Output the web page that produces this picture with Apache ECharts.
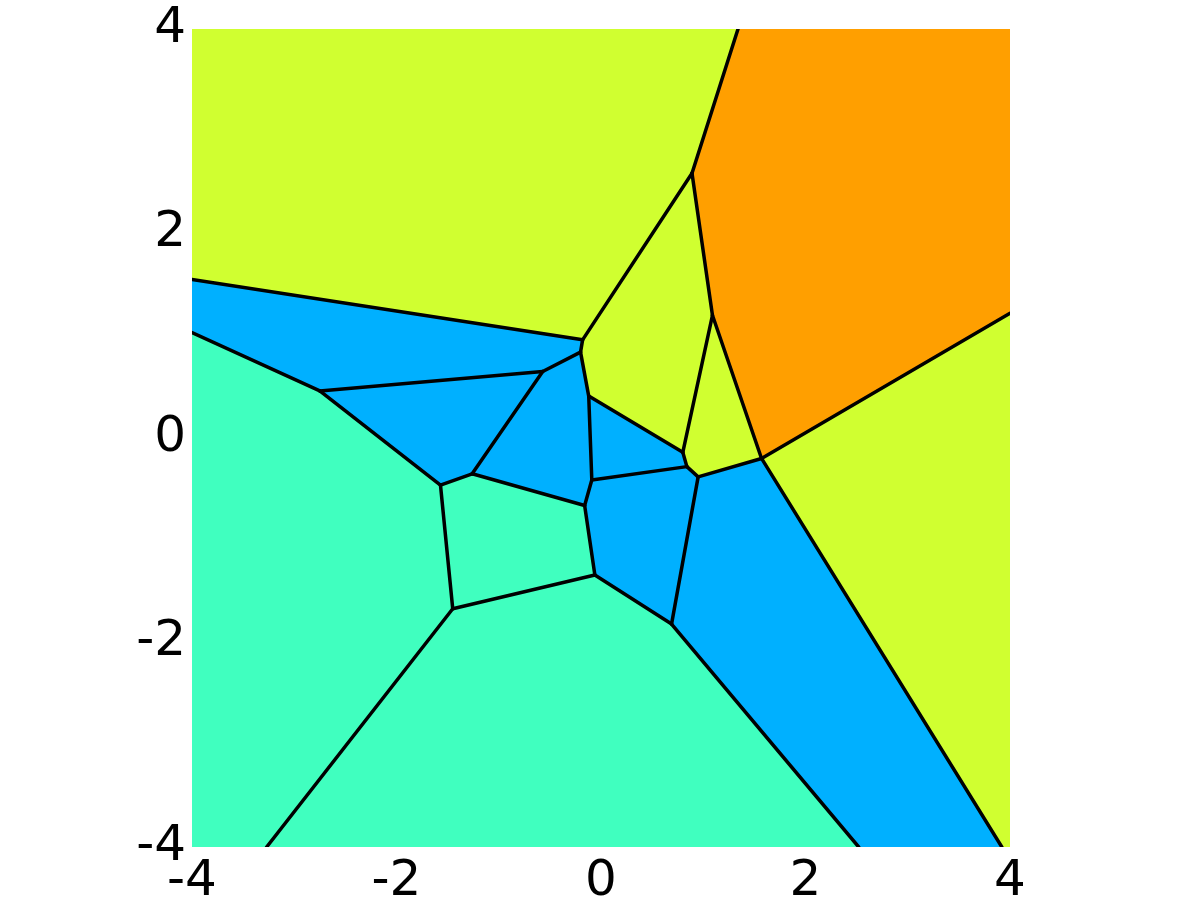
<!DOCTYPE html>
<html>
<head>
<meta charset="utf-8">
<title>Voronoi cells</title>
<script src="https://cdn.jsdelivr.net/npm/echarts@6/dist/echarts.min.js"></script>
<style>
  html, body { margin: 0; padding: 0; background: #fff; }
  #main { width: 1201px; height: 901px; }
</style>
</head>
<body>
<div id="main"></div>
<script>
// vertex coordinates (data units)
const vertexX = [-4, -0.18, -0.2, -0.57, -2.75, -4, -1.57, -1.26, -0.16, -0.09,
  -0.12, 0.8, 0.84, 0.95, 1.57, 1.09, 0.89, 1.34, 4, 3.92,
  2.52, 0.69, -0.06, -1.45, -3.27, -4, 4, 4, -4]
const vertexY = [1.55, 0.96, 0.84, 0.65, 0.46, 1.03, -0.46, -0.35, -0.66, -0.41,
  0.41, -0.14, -0.28, -0.38, -0.2, 1.2, 2.59, 4, 1.22, -4,
  -4, -1.82, -1.34, -1.67, -4, 4, 4, -4, -4]

// cells as lists of vertex indices
const cells = [
  [25, 17, 16, 1, 0],
  [17, 26, 18, 14, 15, 16],
  [18, 27, 19, 14],
  [14, 19, 20, 21, 13],
  [20, 24, 23, 22, 21],
  [5, 4, 6, 23, 24, 28],
  [0, 1, 2, 3, 4, 5],
  [4, 3, 7, 6],
  [2, 10, 9, 8, 7, 3],
  [6, 7, 8, 22, 23],
  [10, 11, 12, 9],
  [9, 12, 13, 21, 22, 8],
  [1, 16, 15, 11, 10, 2],
  [15, 14, 13, 12, 11]
]
const cellColor = ['#D0FF30', '#FF9F00', '#D0FF30', '#00B0FF', '#40FFBF', '#40FFBF', '#00B0FF',
  '#00B0FF', '#00B0FF', '#40FFBF', '#00B0FF', '#00B0FF', '#D0FF30', '#D0FF30']

const xTicks = [-4, -2, 0, 2, 4]
const yTicks = [-4, -2, 0, 2, 4]

// interior edges: every cell side that is not on the box border
function onSameBorder(a, b) {
  const lim = 4
  return (Math.abs(vertexX[a]) === lim && vertexX[a] === vertexX[b]) ||
    (Math.abs(vertexY[a]) === lim && vertexY[a] === vertexY[b])
}
const edges = []
const seen = {}
cells.forEach(c => {
  c.forEach((a, i) => {
    const b = c[(i + 1) % c.length]
    const key = Math.min(a, b) + '-' + Math.max(a, b)
    if (seen[key] || onSameBorder(a, b)) return
    seen[key] = true
    edges.push([a, b])
  })
})

const chart = echarts.init(document.getElementById('main'))
const labelStyle = {
  fontSize: 50,
  fontFamily: 'DejaVu Sans',
  color: '#000'
}
chart.setOption({
  animation: false,
  grid: { left: 192, right: 191, top: 29, bottom: 54, outerBoundsMode: 'none' },
  xAxis: {
    type: 'value',
    min: xTicks[0],
    max: xTicks[xTicks.length - 1],
    interval: 2,
    axisLine: { show: false },
    axisTick: { show: false },
    splitLine: { show: false },
    axisLabel: Object.assign({ margin: 10 }, labelStyle)
  },
  yAxis: {
    type: 'value',
    min: yTicks[0],
    max: yTicks[yTicks.length - 1],
    interval: 2,
    axisLine: { show: false },
    axisTick: { show: false },
    splitLine: { show: false },
    axisLabel: Object.assign({ margin: 6, padding: [10, 0, 0, 0] }, labelStyle)
  },
  series: [
    {
      type: 'custom',
      clip: true,
      data: cells.map((c, i) => [i, 0]),
      renderItem: function (params, api) {
        const cell = cells[params.dataIndex]
        const points = cell.map(k => api.coord([vertexX[k], vertexY[k]]))
        const color = cellColor[params.dataIndex]
        return {
          type: 'polygon',
          shape: { points: points },
          style: { fill: color, stroke: color, lineWidth: 1 }
        }
      }
    },
    {
      type: 'custom',
      clip: true,
      data: edges.map((e, i) => [i, 0]),
      renderItem: function (params, api) {
        const e = edges[params.dataIndex]
        const p1 = api.coord([vertexX[e[0]], vertexY[e[0]]])
        const p2 = api.coord([vertexX[e[1]], vertexY[e[1]]])
        return {
          type: 'line',
          shape: { x1: p1[0], y1: p1[1], x2: p2[0], y2: p2[1] },
          style: { stroke: '#000', lineWidth: 3.5, lineCap: 'round' }
        }
      }
    }
  ]
})
</script>
</body>
</html>
